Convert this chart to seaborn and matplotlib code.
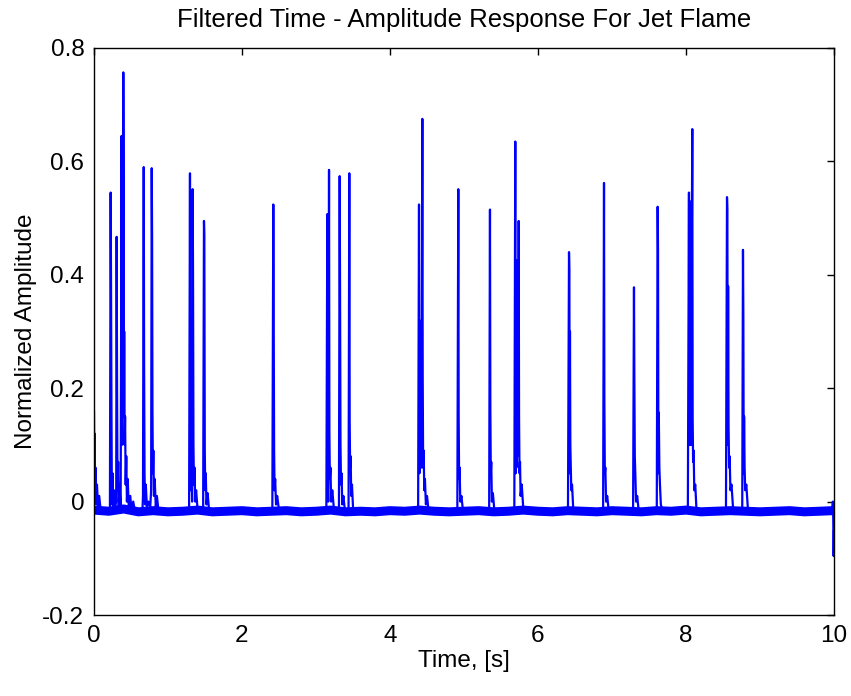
import numpy as np
import pandas as pd
import matplotlib
matplotlib.use("Agg")
import matplotlib.pyplot as plt
import seaborn as sns

# ---------------- data ----------------
title = "Filtered Time - Amplitude Response For Jet Flame"
x_label = "Time, [s]"
y_label = "Normalized Amplitude"
x_ticks = [0, 2, 4, 6, 8, 10]
x_tick_labels = ["0", "2", "4", "6", "8", "10"]
y_ticks = [-0.2, 0.0, 0.2, 0.4, 0.6, 0.8]
y_tick_labels = ["-0.2", "0", "0.2", "0.4", "0.6", "0.8"]

# noisy baseline level of the signal (s, amplitude)
baseline_t = [0.0, 0.2, 0.4, 0.6, 0.8, 1.0, 1.2, 1.4, 1.6, 1.8, 2.0, 2.2, 2.4, 2.6,
              2.8, 3.0, 3.2, 3.4, 3.6, 3.8, 4.0, 4.2, 4.4, 4.6, 4.8, 5.0, 5.2, 5.4,
              5.6, 5.8, 6.0, 6.2, 6.4, 6.6, 6.8, 7.0, 7.2, 7.4, 7.6, 7.8, 8.0, 8.2,
              8.4, 8.6, 8.8, 9.0, 9.2, 9.4, 9.6, 9.8, 9.98]
baseline_v = [-0.015, -0.017, -0.013, -0.018, -0.016, -0.018, -0.017, -0.015, -0.018,
              -0.017, -0.016, -0.018, -0.017, -0.016, -0.018, -0.017, -0.015, -0.018,
              -0.017, -0.018, -0.016, -0.017, -0.015, -0.017, -0.018, -0.017, -0.016,
              -0.018, -0.017, -0.015, -0.017, -0.018, -0.016, -0.017, -0.018, -0.016,
              -0.017, -0.018, -0.016, -0.017, -0.015, -0.018, -0.017, -0.016, -0.017,
              -0.018, -0.017, -0.016, -0.018, -0.017, -0.016]

# burst events: time samples and amplitudes of each spike group
event_t = [
    [0.000, 0.004, 0.008, 0.014, 0.020, 0.030, 0.040, 0.055, 0.070, 0.090],
    [0.215, 0.225, 0.230, 0.236, 0.242, 0.250, 0.260, 0.270, 0.285, 0.300, 0.306,
     0.312, 0.318, 0.326, 0.334, 0.345, 0.360, 0.373, 0.378, 0.385, 0.390, 0.396,
     0.400, 0.404, 0.408, 0.414, 0.420, 0.428, 0.436, 0.445, 0.455, 0.470, 0.490,
     0.510, 0.530, 0.550],
    [0.655, 0.662, 0.672, 0.677, 0.683, 0.690, 0.700, 0.715, 0.735, 0.760, 0.772,
     0.780, 0.785, 0.790, 0.796, 0.802, 0.810, 0.820, 0.835, 0.850, 0.870],
    [1.285, 1.297, 1.302, 1.310, 1.318, 1.326, 1.333, 1.338, 1.344, 1.350, 1.358,
     1.368, 1.380, 1.400],
    [1.475, 1.486, 1.491, 1.497, 1.503, 1.510, 1.520, 1.535, 1.555],
    [2.410, 2.423, 2.428, 2.434, 2.440, 2.448, 2.460, 2.475, 2.500],
    [3.140, 3.153, 3.158, 3.166, 3.176, 3.181, 3.187, 3.195, 3.205, 3.220, 3.240,
     3.260],
    [3.310, 3.320, 3.325, 3.331, 3.338, 3.345, 3.355, 3.370, 3.390],
    [3.440, 3.450, 3.455, 3.461, 3.468, 3.476, 3.486, 3.500, 3.520],
    [4.380, 4.392, 4.398, 4.405, 4.410, 4.418, 4.425, 4.437, 4.442, 4.448, 4.455,
     4.463, 4.472, 4.485, 4.500, 4.520],
    [4.910, 4.923, 4.928, 4.934, 4.940, 4.950, 4.965, 4.985],
    [5.340, 5.351, 5.356, 5.362, 5.368, 5.377, 5.390, 5.410],
    [5.680, 5.693, 5.698, 5.703, 5.708, 5.714, 5.720, 5.727, 5.733, 5.739, 5.744,
     5.750, 5.757, 5.765, 5.780, 5.800, 5.820],
    [6.405, 6.419, 6.424, 6.428, 6.432, 6.437, 6.443, 6.450, 6.460, 6.475, 6.490],
    [6.880, 6.892, 6.897, 6.903, 6.910, 6.920, 6.935, 6.955],
    [7.285, 7.297, 7.302, 7.308, 7.315, 7.325, 7.340, 7.360],
    [7.605, 7.617, 7.622, 7.627, 7.632, 7.640, 7.648, 7.660, 7.680],
    [8.025, 8.040, 8.045, 8.050, 8.056, 8.063, 8.070, 8.078, 8.085, 8.090, 8.096,
     8.103, 8.112, 8.125, 8.140, 8.160],
    [8.540, 8.554, 8.559, 8.564, 8.569, 8.575, 8.582, 8.590, 8.600, 8.615, 8.635,
     8.650],
    [8.760, 8.770, 8.775, 8.780, 8.785, 8.792, 8.800, 8.815, 8.835, 8.850],
    [9.975, 9.985, 9.990, 9.995, 10.000],
]
event_v = [
    [0.160, 0.050, 0.120, 0.020, 0.060, -0.005, 0.030, -0.010, 0.010, -0.015],
    [-0.015, 0.545, 0.387, 0.160, -0.005, 0.050, -0.020, 0.020, -0.010, 0.000, 0.467,
     0.196, 0.020, 0.070, -0.010, 0.030, -0.020, 0.645, 0.100, 0.400, 0.150, 0.757,
     0.578, 0.150, 0.300, 0.100, 0.150, 0.030, 0.080, 0.000, 0.040, -0.010, 0.010,
     -0.020, 0.000, -0.015],
    [-0.015, 0.010, 0.590, 0.246, 0.050, -0.005, 0.030, -0.010, 0.000, -0.010, 0.020,
     0.588, 0.470, 0.160, 0.050, 0.090, 0.010, 0.040, -0.010, 0.010, -0.015],
    [-0.015, 0.579, 0.146, 0.020, 0.050, 0.000, 0.551, 0.407, 0.100, 0.030, 0.060,
     0.000, 0.020, -0.015],
    [-0.015, 0.495, 0.470, 0.090, 0.020, 0.050, -0.005, 0.015, -0.015],
    [-0.015, 0.524, 0.340, 0.090, 0.020, 0.040, -0.005, 0.010, -0.015],
    [-0.015, 0.507, 0.030, 0.000, 0.585, 0.123, 0.040, 0.060, 0.000, 0.020, -0.010,
     -0.020],
    [-0.015, 0.574, 0.370, 0.100, 0.030, 0.050, -0.005, 0.010, -0.015],
    [-0.015, 0.579, 0.140, 0.060, 0.080, 0.010, 0.030, -0.010, -0.015],
    [-0.015, 0.524, 0.050, 0.319, 0.080, 0.220, 0.060, 0.675, 0.216, 0.060, 0.090,
     0.020, 0.040, -0.005, 0.010, -0.015],
    [-0.015, 0.551, 0.149, 0.040, 0.060, 0.000, 0.010, -0.015],
    [-0.015, 0.515, 0.163, 0.050, 0.070, 0.000, 0.015, -0.015],
    [-0.015, 0.635, 0.050, 0.425, 0.060, 0.425, 0.080, 0.420, 0.100, 0.495, 0.149,
     0.050, 0.070, 0.010, 0.030, -0.010, -0.015],
    [-0.015, 0.440, 0.407, 0.050, 0.300, 0.100, 0.060, 0.020, 0.030, -0.010, -0.015],
    [-0.015, 0.562, 0.176, 0.050, 0.060, 0.000, 0.010, -0.015],
    [-0.015, 0.378, 0.220, 0.080, 0.050, 0.000, 0.010, -0.015],
    [-0.015, 0.520, 0.443, 0.050, 0.157, 0.060, 0.030, -0.005, -0.015],
    [-0.015, 0.545, 0.100, 0.530, 0.100, 0.500, 0.100, 0.450, 0.657, 0.146, 0.070,
     0.090, 0.020, 0.030, -0.010, -0.015],
    [-0.015, 0.537, 0.515, 0.100, 0.380, 0.134, 0.060, 0.080, 0.020, 0.030, -0.010,
     -0.015],
    [-0.015, 0.444, 0.328, 0.050, 0.150, 0.060, 0.020, 0.030, -0.010, -0.015],
    [-0.015, 0.000, -0.030, -0.096, -0.050],
]

# ---------------- build tidy frame ----------------
rows = []
for k, (ts, vs) in enumerate(zip(event_t, event_v)):
    for t, v in zip(ts, vs):
        rows.append({"event": k, "time": t, "amp": v})
events = pd.DataFrame(rows)
base = pd.DataFrame({"time": baseline_t, "amp": baseline_v})

# ---------------- plot ----------------
sns.set_theme(style="white")
plt.rcParams["font.family"] = ["Liberation Sans", "DejaVu Sans"]

fig = plt.figure(figsize=(8.51, 6.96), dpi=100)
ax = fig.add_axes([94 / 851, 1 - 615 / 696, (834 - 94) / 851, (615 - 48) / 696])

line_color = "#0000ff"
sns.lineplot(data=base, x="time", y="amp", ax=ax, color=line_color,
             linewidth=6.5, estimator=None, sort=False, legend=False)
sns.lineplot(data=events, x="time", y="amp", units="event", estimator=None,
             sort=False, ax=ax, color=line_color, linewidth=1.6, legend=False)

ax.set_xlim(0, 10)
ax.set_ylim(-0.2, 0.8)
ax.set_xticks(x_ticks)
ax.set_xticklabels(x_tick_labels)
ax.set_yticks(y_ticks)
ax.set_yticklabels(y_tick_labels)

fs = 17.5
ax.tick_params(direction="in", length=5, width=1, top=True, right=True,
               labelsize=fs, colors="black", pad=7)
for s in ax.spines.values():
    s.set_color("black")
    s.set_linewidth(1.0)
    s.set_visible(True)

ax.set_title(title, fontsize=18.5, pad=15, color="black")
ax.set_xlabel(x_label, fontsize=fs, labelpad=2, color="black")
ax.set_ylabel(y_label, fontsize=fs, labelpad=4, color="black")

fig.savefig("out.png", dpi=100, facecolor="white")
